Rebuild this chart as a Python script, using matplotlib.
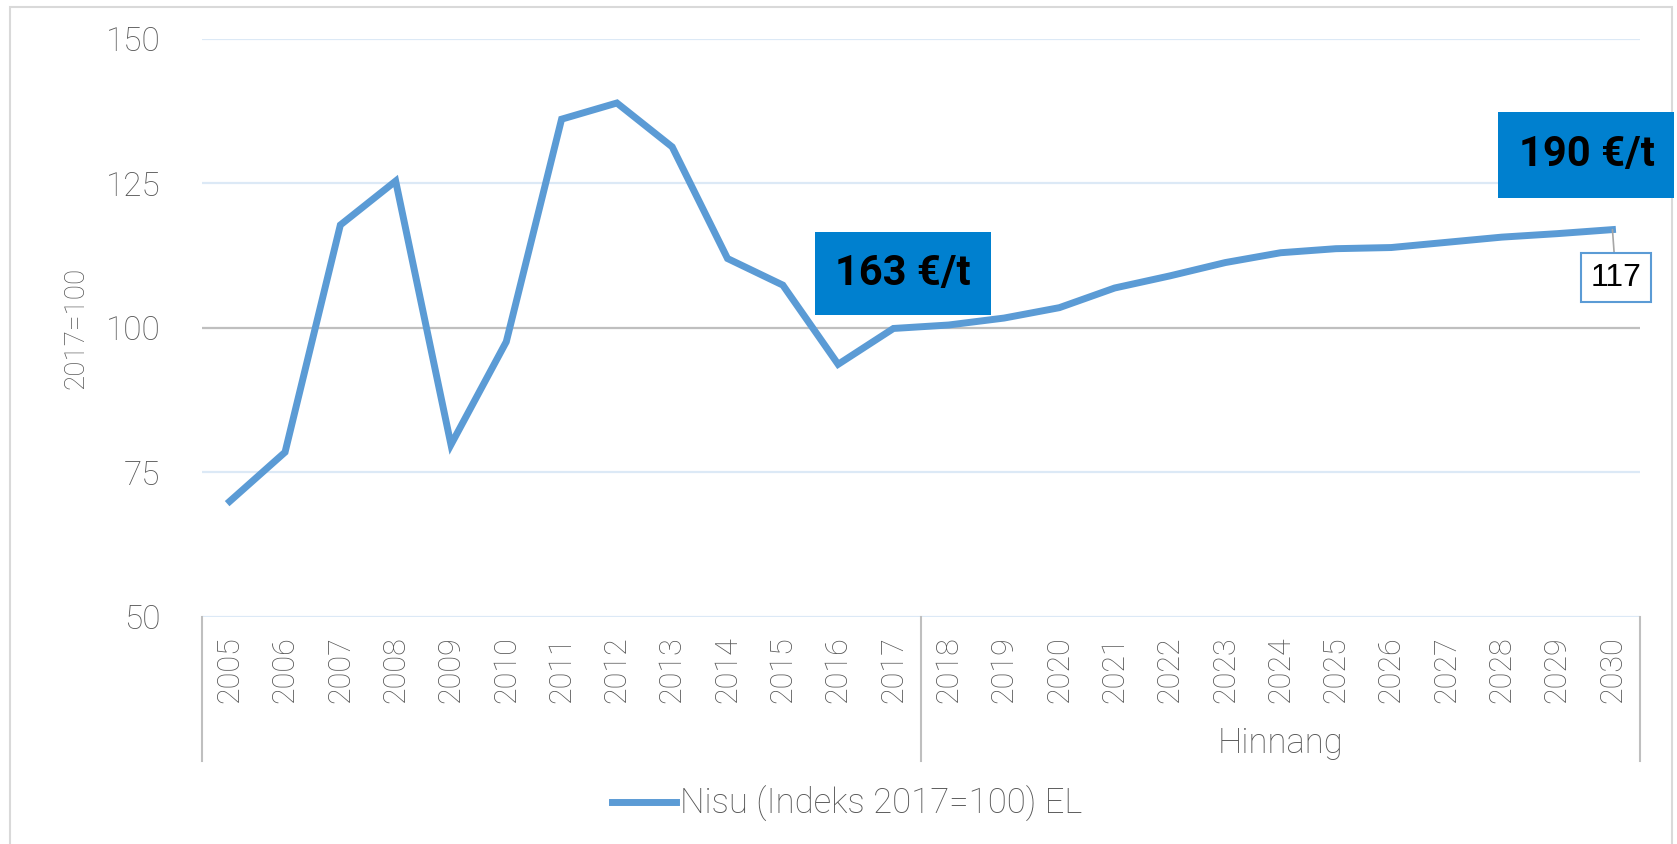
import matplotlib
matplotlib.use("Agg")
import matplotlib.pyplot as plt
from matplotlib.patches import Rectangle
from matplotlib.lines import Line2D

# andmed (loetud pildilt)
years = [str(y) for y in range(2005, 2031)]
index_values = [70.0, 78.5, 117.8, 125.4, 79.8, 97.6, 136.1, 138.9, 131.3, 112.0,
                107.4, 93.7, 99.9, 100.5, 101.7, 103.5, 106.9, 109.0, 111.3, 113.0,
                113.7, 113.9, 114.8, 115.7, 116.3, 117.0]
y_ticks = [50, 75, 100, 125, 150]
series_name = "Nisu (Indeks 2017=100) EL"
group_label = "Hinnang"
group_start = 13  # 2018
price_2017 = "163 €/t"
price_2030 = "190 €/t"

FONT = ["Roboto", "DejaVu Sans"]
GRAY = "#575757"
BLUE = "#5b9bd5"
BOX = "#0080cf"

fig = plt.figure(figsize=(16.77, 8.44), dpi=100)
ax = fig.add_axes([0.1205, 0.269, 0.8575, 0.685])

x = list(range(len(years)))
ax.set_xlim(-0.5, len(years) - 0.5)
ax.set_ylim(50, 150)

# ruudustik
for t in y_ticks:
    col = "#bfbfbf" if t == 100 else "#dce9f6"
    ax.axhline(t, color=col, lw=1.6, zorder=1)

ax.plot(x, index_values, color=BLUE, lw=5, solid_joinstyle="miter", zorder=3,
        label=series_name)

for s in ax.spines.values():
    s.set_visible(False)

ax.set_yticks(y_ticks)
ax.set_yticklabels([str(t) for t in y_ticks], family=FONT, fontsize=24,
                   fontweight="light", color=GRAY)
ax.tick_params(axis="y", length=0, pad=30)
ax.set_xticks(x)
ax.set_xticklabels(years, rotation=90, family=FONT, fontsize=22, fontweight="light",
                   color=GRAY, va="top")
ax.tick_params(axis="x", length=0, pad=14)

ax.text(-0.088, 0.5, "2017=100", transform=ax.transAxes, rotation=90,
        ha="center", va="center", family=FONT, fontsize=20, fontweight="light",
        color=GRAY)

# mitmetasandiline x-telg
trans = ax.get_xaxis_transform()
for xv in [-0.5, group_start - 0.5, len(years) - 0.5]:
    ax.add_line(Line2D([xv, xv], [0, -0.25], transform=trans, color="#bfbfbf",
                       lw=1.5, clip_on=False))
ax.text((group_start - 0.5 + len(years) - 0.5) / 2, -0.218, group_label,
        transform=trans, ha="center", va="center", family=FONT, fontsize=25,
        fontweight="light", color=GRAY)

# andmesilt 2030
ax.annotate("117", xy=(x[-1], index_values[-1]), xytext=(2.5, -34.5),
            textcoords="offset points", ha="center", va="center",
            family=["Liberation Sans", "DejaVu Sans"], fontsize=23, color="black",
            bbox=dict(boxstyle="square,pad=0.3", fc="white", ec=BLUE, lw=1.5),
            arrowprops=dict(arrowstyle="-", color="#a6a6a6", lw=1.2,
                            shrinkA=0, shrinkB=0), zorder=5)

# hinnakastid
fig.patches.append(Rectangle((0.486, 0.627), 0.105, 0.098, transform=fig.transFigure,
                             fc=BOX, ec="none", zorder=4))
fig.text(0.5385, 0.676, price_2017, ha="center", va="center", family=FONT,
         fontsize=30, fontweight="bold", color="black", zorder=5)
fig.patches.append(Rectangle((0.893, 0.7654), 0.1055, 0.102, transform=fig.transFigure,
                             fc=BOX, ec="none", zorder=4))
fig.text(0.946, 0.8164, price_2030, ha="center", va="center", family=FONT,
         fontsize=30, fontweight="bold", color="black", zorder=5)

# raam
fig.patches.append(Rectangle((0.0057, -0.01), 0.9915, 1.002, transform=fig.transFigure,
                             fc="none", ec="#d9d9d9", lw=1.5))

leg = fig.legend(loc="center", bbox_to_anchor=(0.505, 0.047), frameon=False,
                 handlelength=1.85, handletextpad=0.1,
                 prop=dict(family=FONT, size=25, weight="light"))
for t in leg.get_texts():
    t.set_color(GRAY)

fig.savefig("out.png", dpi=100)
